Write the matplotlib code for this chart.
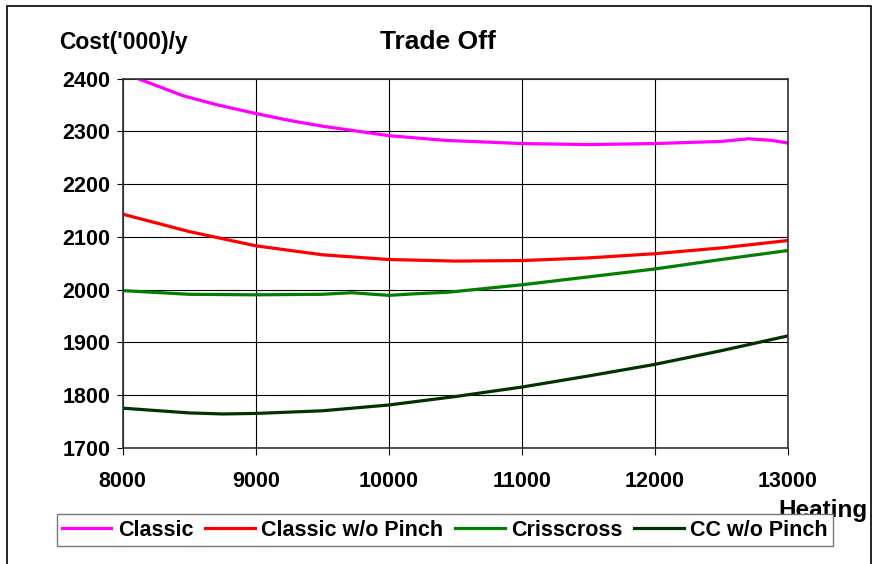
import matplotlib.pyplot as plt
from matplotlib.patches import Rectangle

plt.rcParams['font.family'] = ['Liberation Sans', 'DejaVu Sans']
plt.rcParams['font.weight'] = 'bold'

# values
classic_x = [8000, 8095, 8450, 8700, 9000, 9250, 9500, 9750, 10000, 10425, 11000, 11500, 12000, 12500, 12705, 12880, 13000]
classic = [2411, 2402, 2368, 2351, 2334, 2321, 2310, 2301, 2292, 2283, 2277, 2275, 2277, 2281, 2286, 2283, 2278]

red_x = [8000, 8500, 9000, 9500, 10000, 10500, 11000, 11500, 12000, 12500, 13000]
classic_no_pinch = [2143, 2110, 2083, 2066, 2057, 2054, 2055, 2060, 2068, 2079, 2093]

green_x = [8000, 8500, 9000, 9500, 9720, 10000, 10200, 10450, 11000, 11500, 12000, 12500, 13000]
crisscross = [1998, 1991, 1990, 1991, 1994, 1989, 1992, 1995, 2009, 2024, 2039, 2057, 2074]

dark_x = [8000, 8500, 8750, 9000, 9500, 10000, 10500, 11000, 11500, 12000, 12500, 13000]
cc_no_pinch = [1775, 1766, 1764, 1765, 1770, 1781, 1797, 1815, 1836, 1858, 1884, 1912]

fig = plt.figure(figsize=(8.73, 5.64), dpi=100)
ax = fig.add_axes([122.7 / 873, 1 - 447.7 / 564, 665 / 873, 369 / 564])

ax.plot(classic_x, classic, color='#ff00ff', lw=2.3, label='Classic')
ax.plot(red_x, classic_no_pinch, color='#ff0000', lw=2.3, label='Classic w/o Pinch')
ax.plot(green_x, crisscross, color='#008000', lw=2.3, label='Crisscross')
ax.plot(dark_x, cc_no_pinch, color='#003300', lw=2.3, label='CC w/o Pinch')

ax.set_xlim(8000, 13000)
ax.set_ylim(1700, 2400)
ax.set_xticks(range(8000, 13001, 1000))
ax.set_yticks(range(1700, 2401, 100))
ax.grid(True, color='black', lw=0.8)
ax.set_axisbelow(True)
for s in ax.spines.values():
    s.set_color('#333333')
    s.set_linewidth(1.2)
ax.tick_params(axis='y', direction='out', length=4, pad=5, labelsize=15.5)
ax.tick_params(axis='x', direction='out', length=5, pad=12, labelsize=15.5)

fig.text(438 / 873, 1 - 42 / 564, 'Trade Off', ha='center', va='center', fontsize=19, fontweight='bold')
fig.text(59 / 873, 1 - 43 / 564, "Cost('000)/y", ha='left', va='center', fontsize=16.5, fontweight='bold')
fig.text(823 / 873, 1 - 511 / 564, 'Heating', ha='center', va='center', fontsize=17.5, fontweight='bold')

fig.legend(loc='center', bbox_to_anchor=(445 / 873, 1 - 530 / 564), ncol=4, frameon=True,
           fancybox=False, edgecolor='#777777', framealpha=1, fontsize=15.5,
           handlelength=2.3, columnspacing=0.55, handletextpad=0.3, borderpad=0.25, borderaxespad=0)

fig.patches.append(Rectangle((7 / 873, -0.1), 864 / 873, 1.1 - 6 / 564, transform=fig.transFigure,
                             fill=False, edgecolor='black', lw=1.2))

fig.savefig('out.png', dpi=100)
